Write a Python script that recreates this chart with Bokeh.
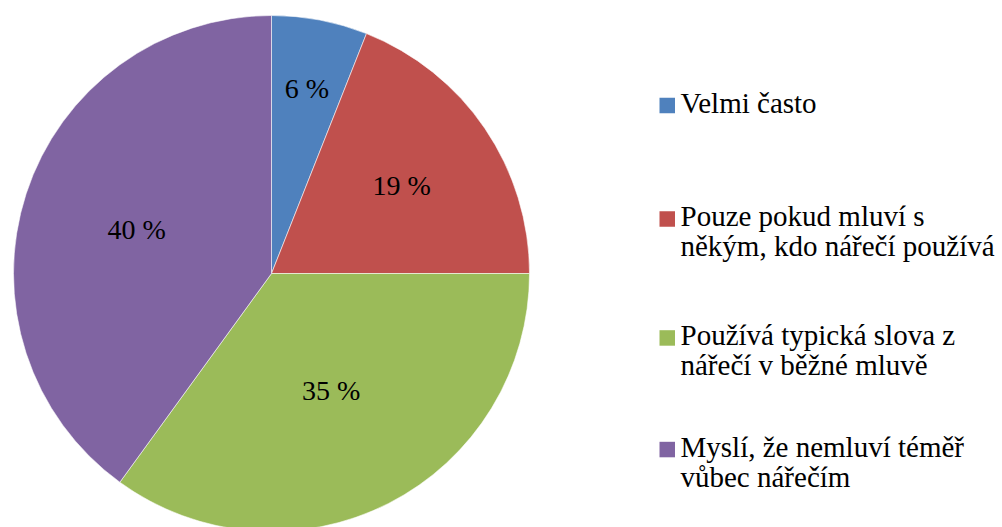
import numpy as np
from bokeh.plotting import figure
from bokeh.models import Range1d, ColumnDataSource
from bokeh.core.properties import value
from bokeh.embed import file_html
from bokeh.resources import INLINE

# ---- data ----
categories = [
    "Velmi často",
    "Pouze pokud mluví s\nněkým, kdo nářečí používá",
    "Používá typická slova z\nnářečí v běžné mluvě",
    "Myslí, že nemluví téměř\nvůbec nářečím",
]
percent = [6, 19, 35, 40]
colors = ["#4F81BD", "#C0504D", "#9BBB59", "#8064A2"]

# ---- layout (pixels in figure space, y measured from top) ----
W, H = 1002, 527
CX, CY, R = 271, 273, 258
label_rfrac = [0.73, 0.61, 0.51, 0.55]
legend_baseline = [113.3, 226.7, 345.7, 457.3]
TEXT_DY = -11
LINE_H = 30
FONT = "Liberation Serif"
LEG_FS = "29px"
LAB_FS = "28px"

p = figure(width=W, height=H, output_backend="svg", toolbar_location=None,
           x_range=Range1d(0, W), y_range=Range1d(0, H),
           min_border=0, outline_line_color=None)
p.axis.visible = False
p.grid.visible = False
p.background_fill_color = "white"
p.border_fill_color = "white"

vals = np.array(percent, dtype=float)
frac = vals / vals.sum()
c1 = np.cumsum(frac)
c0 = c1 - frac
start = np.pi / 2 - 2 * np.pi * c1
end = np.pi / 2 - 2 * np.pi * c0

cy = H - CY
src = ColumnDataSource(dict(start=start, end=end, color=colors))
p.wedge(x=CX, y=cy, radius=R, start_angle="start", end_angle="end",
        fill_color="color", line_color="white", line_width=0.8, line_alpha=0.7,
        source=src)

mid = 2 * np.pi * (c0 + c1) / 2  # clockwise from top
rr = np.array(label_rfrac) * R
lx = CX + rr * np.sin(mid)
ly = cy + rr * np.cos(mid)
labels = [f"{v:g} %" for v in percent]
p.text(x=lx, y=ly, text=labels, text_align="center", text_baseline="middle",
       text_font=value(FONT), text_font_size=LAB_FS, text_color="black")

# legend
SQ_X0, SQ = 659, 15.5
for i, (cat, col) in enumerate(zip(categories, colors)):
    b = legend_baseline[i]
    p.rect(x=SQ_X0 + SQ / 2, y=H - (b - SQ / 2 - 0.5), width=SQ, height=SQ,
           fill_color=col, line_color=None)
    for j, line in enumerate(cat.split("\n")):
        p.text(x=[680], y=[H - (b + TEXT_DY + j * LINE_H)], text=[line],
               text_align="left", text_baseline="alphabetic",
               text_font=value(FONT), text_font_size=LEG_FS, text_color="black")

open("out.html", "w").write(file_html(p, INLINE))
